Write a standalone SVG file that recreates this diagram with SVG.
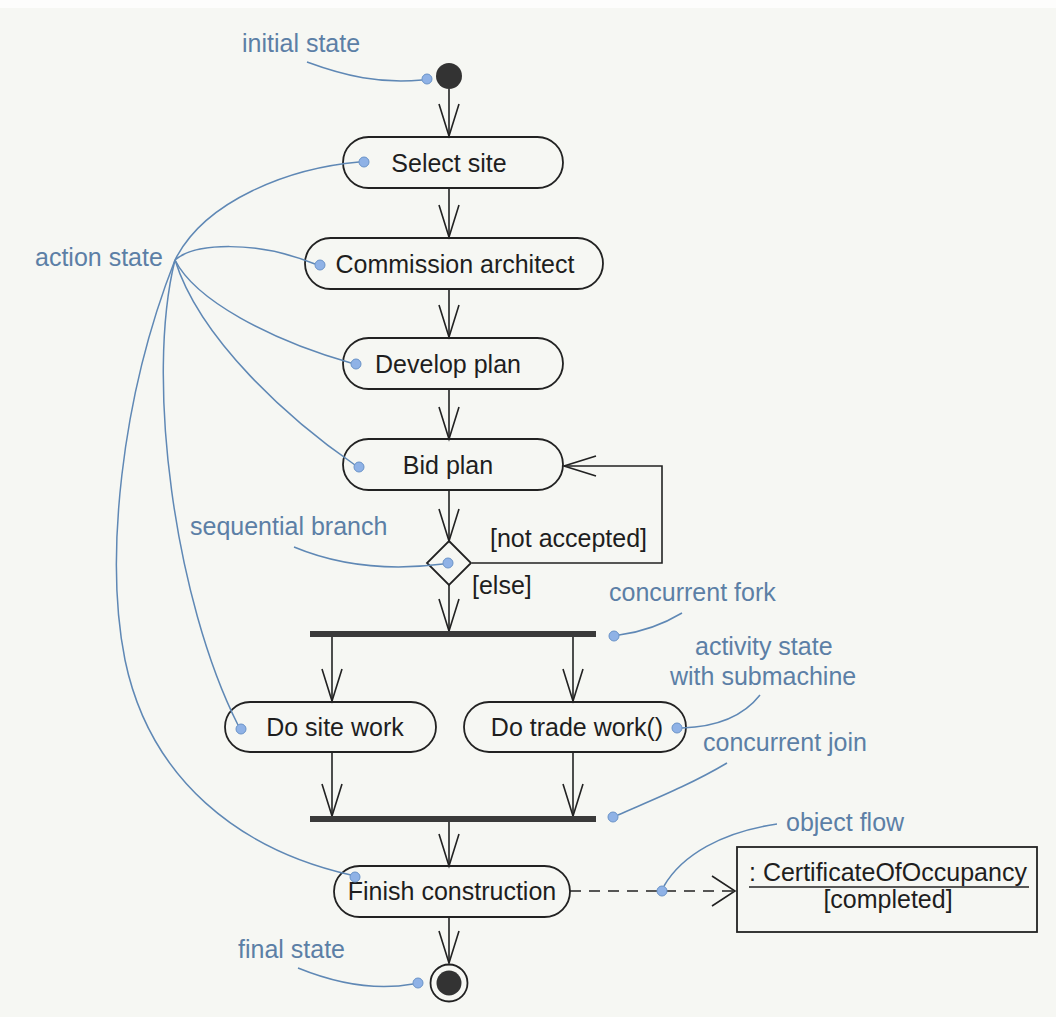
<svg xmlns="http://www.w3.org/2000/svg" width="1056" height="1017" viewBox="0 0 1056 1017">
<style>
.bg{fill:#f6f7f3}
.node{fill:none;stroke:#222;stroke-width:1.8}
.t{font-family:"Liberation Sans",Arial,sans-serif;font-size:25px;fill:#1e1e1e}
.c{text-anchor:middle}
.lbl{font-family:"Liberation Sans",Arial,sans-serif;font-size:25px;fill:#5c7fa6}
.edge{fill:none;stroke:#222;stroke-width:1.6}
.lead{fill:none;stroke:#5f88b5;stroke-width:1.5}
.dot{fill:#8fb2e6;stroke:#6a93c8;stroke-width:1}
.bar{fill:#3a3a3a}
</style>
<defs>
<marker id="arr" markerUnits="userSpaceOnUse" markerWidth="40" markerHeight="26" refX="0" refY="0" viewBox="-34 -13 36 26" orient="auto" overflow="visible">
<path d="M-32,-10 L0,0 L-32,10" fill="none" stroke="#222" stroke-width="1.6"/>
</marker>
<marker id="arrW" markerUnits="userSpaceOnUse" markerWidth="30" markerHeight="36" refX="0" refY="0" viewBox="-26 -18 28 36" orient="auto" overflow="visible">
<path d="M-23,-15 L0,0 L-23,15" fill="none" stroke="#222" stroke-width="1.6"/>
</marker>
</defs>
<rect class="bg" x="0" y="0" width="1056" height="1017"/>
<rect x="0" y="0" width="1056" height="8" fill="#fdfdfc"/>

<g id="connectors">
<path class="edge" d="M449,89 V136" marker-end="url(#arr)"/>
<path class="edge" d="M449,188 V237" marker-end="url(#arr)"/>
<path class="edge" d="M449,289 V337" marker-end="url(#arr)"/>
<path class="edge" d="M449,389 V439" marker-end="url(#arr)"/>
<path class="edge" d="M449,490 V541" marker-end="url(#arr)"/>
<path class="edge" d="M472,563 H662 V466 H564" marker-end="url(#arr)"/>
<path class="edge" d="M449,585 V631" marker-end="url(#arr)"/>
<path class="edge" d="M332,637 V701" marker-end="url(#arr)"/>
<path class="edge" d="M573,637 V701" marker-end="url(#arr)"/>
<path class="edge" d="M332,752 V816" marker-end="url(#arr)"/>
<path class="edge" d="M573,752 V816" marker-end="url(#arr)"/>
<path class="edge" d="M449,822 V866" marker-end="url(#arr)"/>
<path class="edge" d="M449,917 V963" marker-end="url(#arr)"/>
<path class="edge" d="M570,891 H735" stroke-dasharray="11,8" marker-end="url(#arrW)"/>
</g>

<g id="initial-state">
<circle cx="449" cy="76" r="13" fill="#333"/>
</g>
<g id="select-site">
<rect class="node" x="343" y="137" width="220" height="51" rx="25.5"/>
<text class="t c" x="449" y="172">Select site</text>
</g>
<g id="commission-architect">
<rect class="node" x="305" y="238" width="298" height="51" rx="25.5"/>
<text class="t c" x="455" y="273">Commission architect</text>
</g>
<g id="develop-plan">
<rect class="node" x="343" y="338" width="220" height="51" rx="25.5"/>
<text class="t c" x="448" y="373">Develop plan</text>
</g>
<g id="bid-plan">
<rect class="node" x="343" y="439" width="220" height="51" rx="25.5"/>
<text class="t c" x="448" y="474">Bid plan</text>
</g>
<g id="branch">
<path class="node" d="M449,541 L471,563 L449,585 L427,563 Z"/>
</g>
<text class="t" x="490" y="547">[not accepted]</text>
<text class="t" x="472" y="594">[else]</text>
<g id="fork">
<rect class="bar" x="310" y="631" width="286" height="6"/>
</g>
<g id="do-site-work">
<rect class="node" x="225" y="702" width="211" height="50" rx="25"/>
<text class="t c" x="335" y="736">Do site work</text>
</g>
<g id="do-trade-work">
<rect class="node" x="464" y="702" width="222" height="50" rx="25"/>
<text class="t c" x="577" y="736">Do trade work()</text>
</g>
<g id="join">
<rect class="bar" x="310" y="816" width="286" height="6"/>
</g>
<g id="finish-construction">
<rect class="node" x="334" y="866" width="236" height="51" rx="25.5"/>
<text class="t c" x="452" y="900">Finish construction</text>
</g>
<g id="final-state">
<circle cx="449" cy="983" r="18.5" fill="none" stroke="#222" stroke-width="1.8"/>
<circle cx="449" cy="983" r="12.5" fill="#333"/>
</g>
<g id="certificate">
<rect class="node" x="737" y="847" width="300" height="85"/>
<text class="t" x="749" y="881">: CertificateOfOccupancy</text>
<line x1="749" y1="887" x2="1029" y2="887" stroke="#222" stroke-width="1.5"/>
<text class="t c" x="888" y="908">[completed]</text>
</g>

<g id="annotations">
<text class="lbl" x="242" y="52">initial state</text>
<path class="lead" d="M307,62 C345,76 380,84 422,80"/>
<circle class="dot" cx="427" cy="79" r="5"/>

<text class="lbl" x="35" y="266">action state</text>
<path class="lead" d="M175,260 C205,200 290,168 359,162"/>
<path class="lead" d="M175,260 C195,243 255,240 315,264"/>
<path class="lead" d="M175,260 C195,300 270,340 351,363"/>
<path class="lead" d="M175,260 C200,340 290,420 355,465"/>
<path class="lead" d="M175,260 C145,380 175,600 238,725"/>
<path class="lead" d="M175,260 C120,400 105,560 125,660 C150,780 240,850 351,875"/>
<circle class="dot" cx="364" cy="162" r="5"/>
<circle class="dot" cx="320" cy="265" r="5"/>
<circle class="dot" cx="356" cy="364" r="5"/>
<circle class="dot" cx="359" cy="467" r="5"/>
<circle class="dot" cx="241" cy="729" r="5"/>
<circle class="dot" cx="355" cy="877" r="5"/>

<text class="lbl" x="190" y="535">sequential branch</text>
<path class="lead" d="M294,547 C330,562 380,572 443,564"/>
<circle class="dot" cx="448" cy="563" r="5"/>

<text class="lbl" x="609" y="601">concurrent fork</text>
<path class="lead" d="M682,613 C662,625 642,632 619,635"/>
<circle class="dot" cx="614" cy="636" r="5"/>

<text class="lbl" x="695" y="655">activity state</text>
<text class="lbl" x="670" y="685">with submachine</text>
<path class="lead" d="M760,695 C742,718 712,727 682,728"/>
<circle class="dot" cx="677" cy="728" r="5"/>

<text class="lbl" x="703" y="751">concurrent join</text>
<path class="lead" d="M727,763 C690,785 652,800 618,815"/>
<circle class="dot" cx="613" cy="817" r="5"/>

<text class="lbl" x="786" y="831">object flow</text>
<path class="lead" d="M777,824 C722,832 682,855 664,886"/>
<circle class="dot" cx="662" cy="891" r="5"/>

<text class="lbl" x="238" y="958">final state</text>
<path class="lead" d="M298,968 C340,985 380,990 413,984"/>
<circle class="dot" cx="418" cy="983" r="5"/>
</g>
</svg>
